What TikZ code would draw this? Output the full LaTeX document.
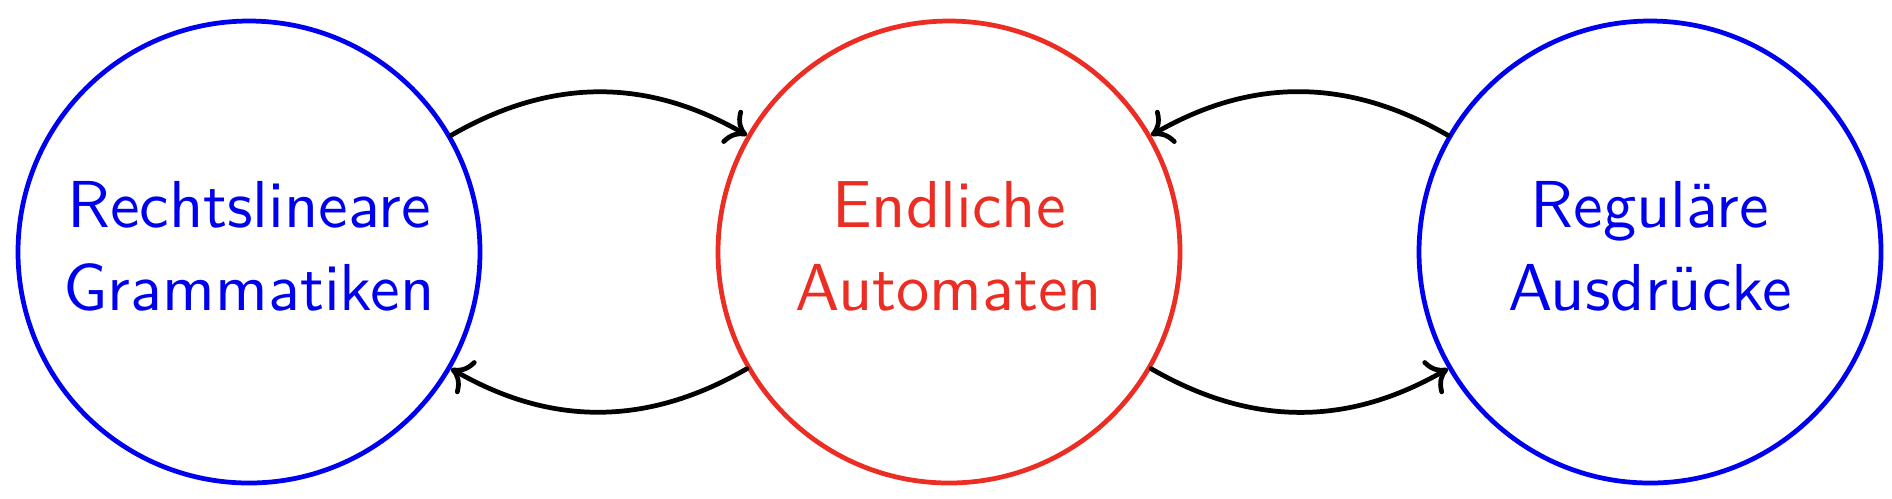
\documentclass[tikz,border=0pt]{standalone}
\usetikzlibrary{arrows.meta}
\definecolor{myred}{RGB}{235,45,35}
\definecolor{myblue}{RGB}{0,0,240}
\newcommand{\lbl}[2]{\scalebox{1.89}{\fontsize{10}{12.5}\selectfont\sffamily\begin{tabular}{@{}c@{}}#1\\#2\end{tabular}}}
\begin{document}
\begin{tikzpicture}[
  state/.style={circle, draw, line width=1.35pt, minimum size=4.62cm, inner sep=0pt, align=center},
  conn/.style={-{Computer Modern Rightarrow[length=5.5pt,width=11pt]}, line width=1.35pt, line cap=round}
]
\useasboundingbox (0,0) rectangle (18.92,-4.98);
\node[state, draw=myblue, text=myblue] (a) at (2.49,-2.52) {\lbl{Rechtslineare}{Grammatiken}};
\node[state, draw=myred, text=myred] (b) at (9.49,-2.52) {\lbl{Endliche}{Automaten}};
\node[state, draw=myblue, text=myblue] (c) at (16.50,-2.52) {\lbl{Reguläre}{Ausdrücke}};
\draw[conn] (a) to[bend left=30] (b);
\draw[conn] (b) to[bend left=30] (a);
\draw[conn] (c) to[bend right=30] (b);
\draw[conn] (b) to[bend right=30] (c);
\end{tikzpicture}
\end{document}
